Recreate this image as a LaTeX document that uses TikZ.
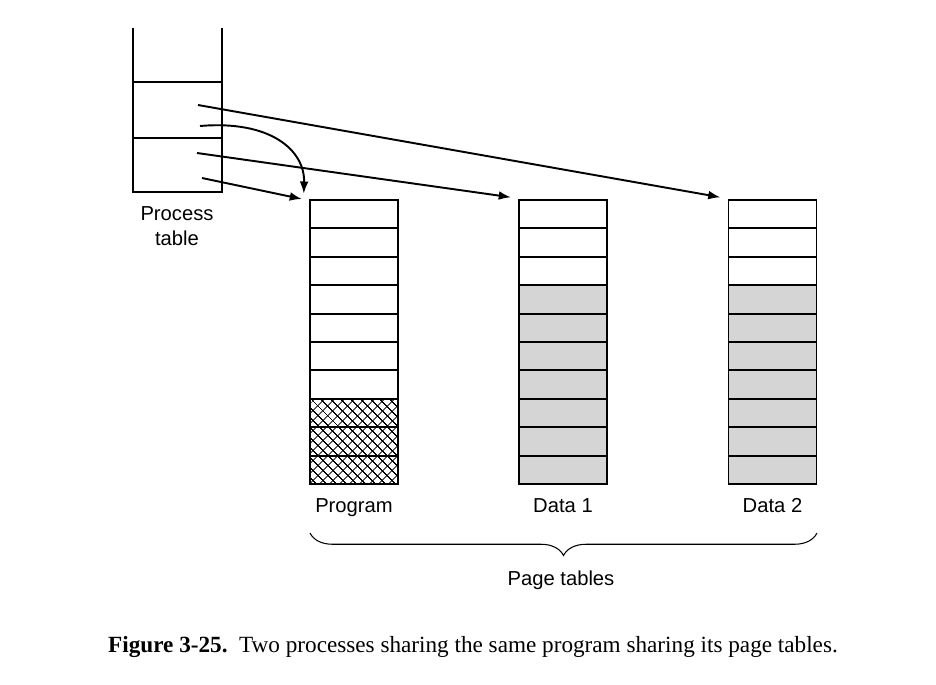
\documentclass[tikz,border=0pt]{standalone}
\usepackage{fontspec}
\setmainfont{Liberation Serif}
\setsansfont{Liberation Sans}
\usetikzlibrary{positioning, arrows.meta, patterns.meta, decorations.pathreplacing}

\tikzset{
	cell/.style={draw, line width=1.1pt, minimum width=1.76cm, minimum height=0.568cm, inner sep=0pt},
	hatched/.style={cell, pattern={Hatch[angle=45, distance=4pt, line width=0.5pt]}},
	shaded/.style={cell, fill=gray!33},
	lbl/.style={font=\sffamily\fontsize{11.5}{14}\selectfont, align=center},
	ptr/.style={line width=1.1pt, -{Latex[length=7pt, width=5pt]}}
}

\begin{document}
\begin{tikzpicture}[x=0.02cm, y=-0.02cm]
		\useasboundingbox (0,0) rectangle (936,684);
		
		% process table
		\draw[line width=1.1pt] (133,28) -- (133,192) -- (222,192) -- (222,28);
		\draw[line width=1.1pt] (133,82) -- (222,82);
		\draw[line width=1.1pt] (133,138) -- (222,138);
		\node[lbl] (ptable) at (177,226) {Process\\table};
		
		% entries
		\coordinate (e1) at (198,105);
		\coordinate (e2) at (200,126);
		\coordinate (e3) at (197,153);
		\coordinate (e4) at (202,178);
		
		% page tables
		\foreach \i in {1,...,10}{
			\pgfmathsetmacro{\yy}{214.2+28.4*(\i-1)}
			\ifnum\i<8
				\node[cell] (prog\i) at (354,\yy) {};
			\else
				\node[hatched] (prog\i) at (354,\yy) {};
			\fi
			\ifnum\i<4
				\node[cell] (dataA\i) at (563,\yy) {};
				\node[cell] (dataB\i) at (772.5,\yy) {};
			\else
				\node[shaded] (dataA\i) at (563,\yy) {};
				\node[shaded] (dataB\i) at (772.5,\yy) {};
			\fi
		}
		
		% labels
		\node[lbl, below=4pt of prog10] (lprog) {Program};
		\node[lbl, below=4pt of dataA10] (ldataA) {Data 1};
		\node[lbl, below=4pt of dataB10] (ldataB) {Data 2};
		
		% brace
		\coordinate (bl) at (310,533);
		\coordinate (br) at (817,533);
		\draw[line width=0.6pt, decorate, decoration={brace, mirror, amplitude=0.45cm}] (bl) -- (br);
		\node[lbl] (ptables) at (561,580) {Page tables};
		
		% pointers
		\draw[ptr] (e1) -- ([xshift=-4pt, yshift=1pt]dataB1.north west);
		\draw[ptr] (e2) .. controls (270,120) and (305,150) .. ([xshift=-3pt, yshift=3pt]prog1.north west);
		\draw[ptr] (e3) -- ([xshift=-4pt, yshift=1pt]dataA1.north west);
		\draw[ptr] (e4) -- ([xshift=-4pt]prog1.north west);
		
		% caption
		\node[font=\fontsize{13.2}{15}\selectfont] (cap) at (473,647) {\textbf{Figure 3-25.}\ \ Two processes sharing the same program sharing its page tables.};
\end{tikzpicture}
\end{document}
